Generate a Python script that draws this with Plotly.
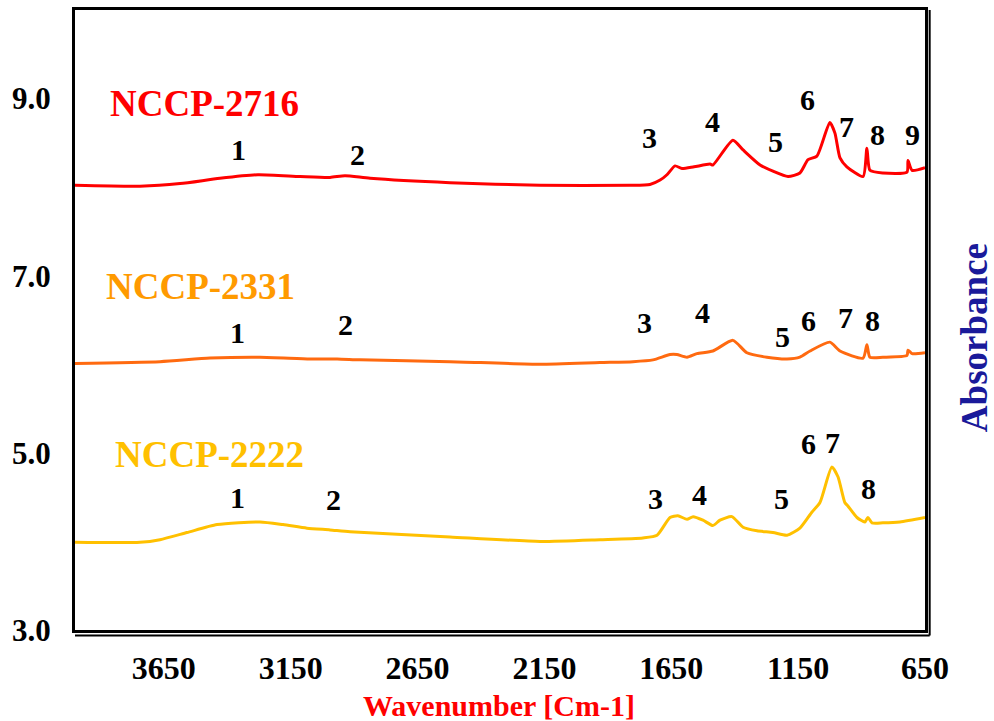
import plotly.graph_objects as go

# ---------------- data ----------------
wn_2716 = [4000, 3744, 3586, 3429, 3279, 3113, 2995, 2936, 2837, 2522, 2167, 1813, 1734, 1694,
           1667, 1635, 1608, 1560, 1497, 1486, 1407, 1367, 1300, 1249, 1190, 1143, 1111, 1076,
           1025, 1005, 985, 958, 894, 879, 867, 816, 721, 717, 701, 650]
ab_2716 = [8.02, 8.01, 8.04, 8.10, 8.14, 8.12, 8.11, 8.13, 8.10, 8.05, 8.02, 8.02, 8.03, 8.08,
           8.14, 8.24, 8.21, 8.23, 8.26, 8.25, 8.53, 8.42, 8.25, 8.18, 8.12, 8.16, 8.31, 8.35,
           8.73, 8.61, 8.33, 8.23, 8.12, 8.44, 8.19, 8.16, 8.17, 8.30, 8.19, 8.22]

wn_2331 = [4000, 3665, 3468, 3271, 3074, 2967, 2877, 2522, 2167, 1931, 1801, 1722, 1655, 1628,
           1588, 1549, 1486, 1407, 1352, 1273, 1194, 1143, 1103, 1025, 985, 894, 879, 867, 816,
           721, 717, 701, 650]
ab_2331 = [6.01, 6.03, 6.07, 6.08, 6.06, 6.06, 6.05, 6.03, 6.00, 6.02, 6.03, 6.05, 6.11, 6.11,
           6.08, 6.12, 6.15, 6.27, 6.13, 6.08, 6.06, 6.08, 6.15, 6.25, 6.15, 6.07, 6.22, 6.08, 6.08,
           6.10, 6.16, 6.12, 6.13]

wn_2222 = [4000, 3744, 3665, 3559, 3440, 3271, 3180, 3086, 2995, 2916, 2522, 2167, 1931, 1762,
           1706, 1655, 1624, 1588, 1564, 1525, 1486, 1458, 1411, 1367, 1312, 1249, 1194, 1143,
           1096, 1064, 1017, 993, 966, 954, 918, 887, 875, 859, 816, 749, 650]
ab_2222 = [3.99, 3.99, 4.02, 4.10, 4.19, 4.22, 4.19, 4.15, 4.13, 4.11, 4.05, 4.00, 4.02, 4.04,
           4.07, 4.27, 4.29, 4.25, 4.28, 4.24, 4.18, 4.24, 4.28, 4.16, 4.12, 4.10, 4.07, 4.15,
           4.33, 4.44, 4.84, 4.73, 4.44, 4.40, 4.27, 4.22, 4.27, 4.21, 4.21, 4.22, 4.27]

series_names = ["NCCP-2716", "NCCP-2331", "NCCP-2222"]
x_ticks = [3650, 3150, 2650, 2150, 1650, 1150, 650]
y_ticks = [3.0, 5.0, 7.0, 9.0]

# peak label numbers and their label positions (wavenumber, absorbance)
peaks_2716 = ["1", "2", "3", "4", "5", "6", "7", "8", "9"]
peak_wn_2716 = [3354, 2885, 1734, 1486, 1241, 1115, 958, 839, 701]
peak_ab_2716 = [8.42, 8.37, 8.56, 8.74, 8.51, 8.99, 8.68, 8.59, 8.59]

peaks_2331 = ["1", "2", "3", "4", "5", "6", "7", "8"]
peak_wn_2331 = [3358, 2932, 1754, 1525, 1210, 1111, 965, 855]
peak_ab_2331 = [6.36, 6.45, 6.47, 6.59, 6.31, 6.50, 6.53, 6.50]

peaks_2222 = ["1", "2", "3", "4", "5", "6", "7", "8"]
peak_wn_2222 = [3358, 2983, 1714, 1537, 1214, 1111, 1013, 871]
peak_ab_2222 = [4.50, 4.47, 4.49, 4.53, 4.48, 5.11, 5.12, 4.60]

# series name label positions
name_wn = [3488, 3507, 3468]
name_ab = [8.95, 6.88, 4.98]

# ---------------- figure ----------------
FONT = "Liberation Serif, Times New Roman, serif"
line_colors = ["#FF0000", "#FF6A10", "#FFC000"]
name_colors = ["#FF0000", "#FF9A00", "#FFC000"]

fig = go.Figure()
for wn, ab, name, col in zip([wn_2716, wn_2331, wn_2222], [ab_2716, ab_2331, ab_2222],
                             series_names, line_colors):
    fig.add_trace(go.Scatter(x=wn, y=ab, mode="lines", name=name,
                             line=dict(color=col, width=3, shape="spline", smoothing=0.6),
                             showlegend=False))

annotations = []
for labs, pw, pa in [(peaks_2716, peak_wn_2716, peak_ab_2716),
                     (peaks_2331, peak_wn_2331, peak_ab_2331),
                     (peaks_2222, peak_wn_2222, peak_ab_2222)]:
    for t, xw, ya in zip(labs, pw, pa):
        annotations.append(dict(x=xw, y=ya, xref="x", yref="y", text=t, showarrow=False,
                                font=dict(family=FONT, size=30, color="black", weight="bold")))

for name, xw, ya, col in zip(series_names, name_wn, name_ab, name_colors):
    annotations.append(dict(x=xw, y=ya, xref="x", yref="y", text=name, showarrow=False,
                            font=dict(family=FONT, size=37, color=col, weight="bold")))

annotations.append(dict(x=0.499, y=-0.121, xref="paper", yref="paper",
                        text="Wavenumber [Cm-1]", showarrow=False, yanchor="middle",
                        font=dict(family=FONT, size=30, color="#FF0000", weight="bold")))
annotations.append(dict(x=1.059, y=0.471, xref="paper", yref="paper",
                        text="Absorbance", showarrow=False, textangle=-90,
                        xanchor="center", yanchor="middle",
                        font=dict(family=FONT, size=37, color="#1A1A9A", weight="bold")))

shapes = [
    # double line effect on right and bottom
    dict(type="line", xref="paper", yref="paper", x0=1.0055, x1=1.0055, y0=-0.009, y1=1.0,
         line=dict(color="black", width=2)),
    dict(type="line", xref="paper", yref="paper", x0=0.0, x1=1.0055, y0=-0.009, y1=-0.009,
         line=dict(color="black", width=2)),
]

fig.update_layout(
    width=994, height=721,
    margin=dict(l=75, r=69, t=10, b=91, autoexpand=False),
    paper_bgcolor="white", plot_bgcolor="white",
    annotations=annotations, shapes=shapes,
    xaxis=dict(range=[4000, 650], tickvals=x_ticks, ticktext=[str(v) for v in x_ticks],
               showgrid=False, zeroline=False, showline=True, linecolor="black", linewidth=3,
               mirror=True, ticks="", ticklabelstandoff=8,
               tickfont=dict(family=FONT, size=32, color="black", weight="bold")),
    yaxis=dict(range=[3, 10], tickvals=y_ticks, ticktext=[f"{v:.1f}" for v in y_ticks],
               showgrid=False, zeroline=False, showline=True, linecolor="black", linewidth=3,
               mirror=True, ticks="", ticklabelstandoff=15,
               tickfont=dict(family=FONT, size=31, color="black", weight="bold")),
)

fig.write_html("out.html", config={"displayModeBar": False},
               post_script="document.body.style.margin='0px';")
